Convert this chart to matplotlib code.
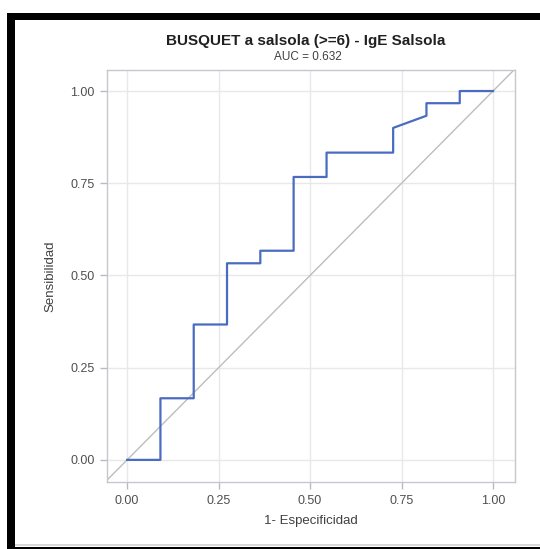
import matplotlib
matplotlib.use("Agg")
from matplotlib import pyplot as plt
from matplotlib.patches import Rectangle

# ROC curve vertices
fpr = [0.0, 0.091, 0.091, 0.182, 0.182, 0.273, 0.273, 0.364, 0.364, 0.455,
       0.455, 0.545, 0.545, 0.727, 0.727, 0.818, 0.818, 0.909, 0.909, 1.0]
tpr = [0.0, 0.0, 0.167, 0.167, 0.367, 0.367, 0.533, 0.533, 0.567, 0.567,
       0.767, 0.767, 0.833, 0.833, 0.900, 0.933, 0.967, 0.967, 1.0, 1.0]
ticks = [0.0, 0.25, 0.5, 0.75, 1.0]
tick_labels = ["0.00", "0.25", "0.50", "0.75", "1.00"]
title = "BUSQUET a salsola (>=6) - IgE Salsola"
subtitle = "AUC = 0.632"

plt.rcParams['font.family'] = ['Liberation Sans', 'DejaVu Sans']

W, H = 540, 549
fig = plt.figure(figsize=(W / 100, H / 100), dpi=100)
fig.patch.set_facecolor("white")

ax = fig.add_axes([107 / W, 1 - 482 / H, (515 - 107) / W, (482 - 70) / H])
ax.set_xlim(-0.055, 1.06)
ax.set_ylim(-0.06, 1.057)

ax.grid(True, color="#e8e8e8", linewidth=1.0)
ax.set_axisbelow(True)
ax.axline((0, 0), (1, 1), color="#bdbdbd", linewidth=1.0, zorder=2)
ax.plot(fpr, tpr, color="#4a6cc0", linewidth=1.6, zorder=3)

ax.set_xticks(ticks)
ax.set_xticklabels(tick_labels)
ax.set_yticks(ticks)
ax.set_yticklabels(tick_labels)
ax.tick_params(colors="#b8bcc0", labelcolor="#505050", labelsize=9,
               length=5, width=1, pad=4)
for s in ax.spines.values():
    s.set_color("#c4c8cc")
    s.set_linewidth(1.0)

ax.set_xlabel("1- Especificidad", fontsize=9.5, color="#404040", labelpad=6)
ax.set_ylabel("Sensibilidad", fontsize=9.5, color="#404040", labelpad=10)

fig.text(306 / W, 1 - 41 / H, title, ha="center", va="center",
         fontsize=11, fontweight="bold", color="#202020")
fig.text(308 / W, 1 - 57 / H, subtitle, ha="center", va="center",
         fontsize=8.5, color="#404040")

# screenshot frame
fig.add_artist(Rectangle((7 / W, 0), 8 / W, 1 - 13 / H, transform=fig.transFigure,
                         facecolor="black", edgecolor="none"))
fig.add_artist(Rectangle((7 / W, 1 - 20 / H), 1 - 7 / W, 7 / H, transform=fig.transFigure,
                         facecolor="black", edgecolor="none"))
fig.add_artist(Rectangle((7 / W, 0), 1 - 7 / W, 2 / H, transform=fig.transFigure,
                         facecolor="black", edgecolor="none"))
fig.add_artist(Rectangle((15 / W, 3 / H), 1 - 15 / W, 2 / H, transform=fig.transFigure,
                         facecolor="#d8d8d8", edgecolor="none"))

fig.savefig("out.png", dpi=100)
